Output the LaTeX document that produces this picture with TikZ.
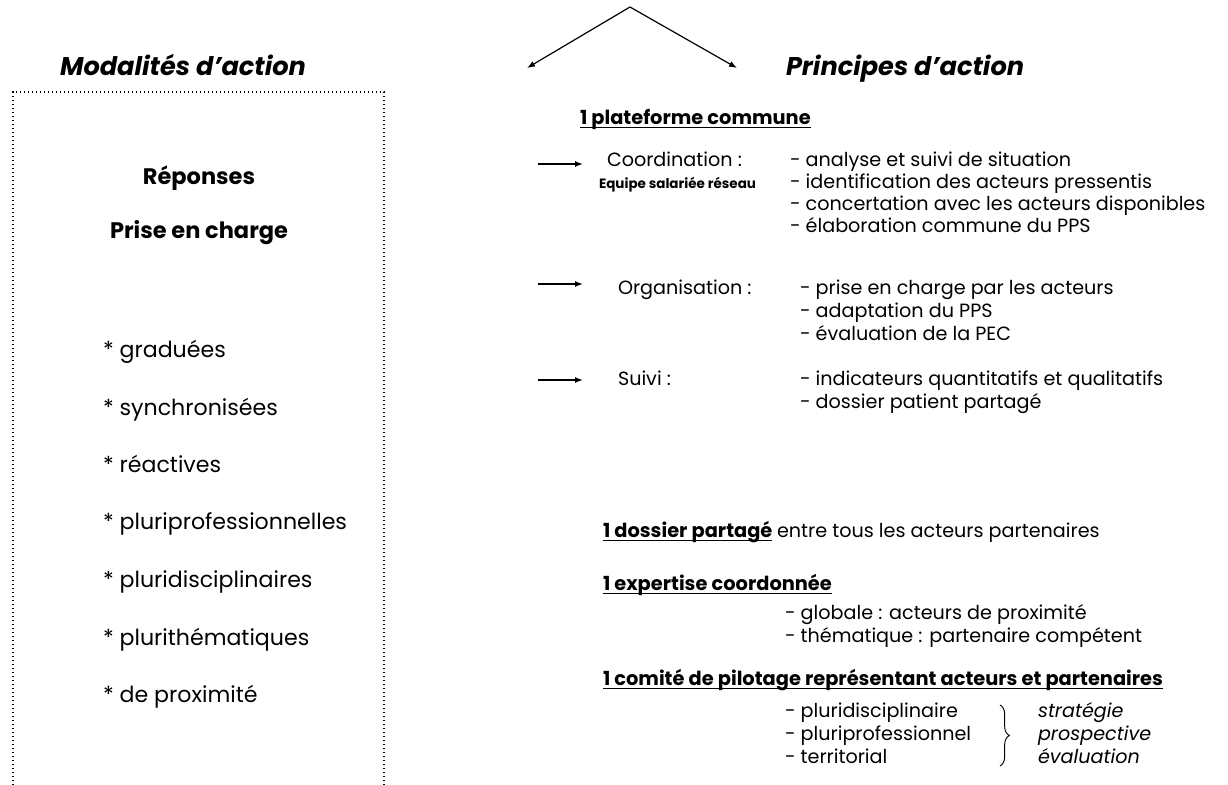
\documentclass[tikz,border=0pt]{standalone}
\usepackage{fontspec}
\setmainfont{Poppins}
\usetikzlibrary{arrows.meta,decorations.pathreplacing}
\newlength\calw
\newcommand\calfont[4]{\settowidth\calw{#2\fontsize{10pt}{12pt}\selectfont #3}\pgfmathsetmacro#1{7.5*#4/\calw}}
\newcommand\fhead{\bfseries\itshape\fontsize{\szHead pt}{\szHead pt}\selectfont}
\newcommand\fboxb{\bfseries\fontsize{\szBoxB pt}{\szBoxB pt}\selectfont}
\newcommand\fboxi{\fontsize{\szBox pt}{\szBox pt}\selectfont}
\newcommand\fr{\fontsize{\szR pt}{\szR pt}\selectfont}
\newcommand\frb{\bfseries\fontsize{\szRB pt}{\szRB pt}\selectfont}
\newcommand\fri{\itshape\fontsize{\szR pt}{\szR pt}\selectfont}
\newcommand\feq{\bfseries\fontsize{\szEq pt}{\szEq pt}\selectfont}
\begin{document}
\calfont{\szHead}{\bfseries\itshape}{Modalités d’action}{246}%
\calfont{\szBoxB}{\bfseries}{Prise en charge}{178}%
\calfont{\szBox}{}{* pluriprofessionnelles}{244}%
\calfont{\szR}{}{- thématique : partenaire compétent}{357}%
\calfont{\szRB}{\bfseries}{1 comité de pilotage représentant acteurs et partenaires}{560}%
\calfont{\szEq}{\bfseries}{Equipe salariée réseau}{157}%
\begin{tikzpicture}[x=0.75pt,y=-0.75pt,
  txt/.style={inner sep=0pt, outer sep=0pt, anchor=base west},
  headtxt/.style={txt, font=\fhead},
  boxbold/.style={txt, anchor=base, font=\fboxb},
  boxitem/.style={txt, font=\fboxi},
  rtxt/.style={txt, font=\fr},
  rbold/.style={txt, font=\frb},
  rital/.style={txt, font=\fri},
  eqtxt/.style={txt, anchor=base east, font=\feq},
  uline/.style={line width=1.1pt},
  dotbox/.style={line width=1.1pt, dash pattern=on 1.1pt off 1.9pt},
  vline/.style={line width=0.9pt, -{Latex[length=6pt,width=4.5pt]}},
  harrow/.style={line width=1.1pt, -{Latex[length=6pt,width=4.5pt]}},
  bracedec/.style={line width=0.7pt, decorate, decoration={brace, amplitude=7pt}}
]
\useasboundingbox (0,0) rectangle (1228,785);

% top split arrows
\coordinate (apex) at (630,7);
\coordinate (tipl) at (527,68);
\coordinate (tipr) at (737,68);
\draw[vline] (apex) -- (tipl);
\draw[vline] (apex) -- (tipr);

% headers
\node[headtxt] (hmod) at (60,75) {Modalités d’action};
\node[headtxt] (hpri) at (786,75) {Principes d’action};

% left dotted box
\draw[dotbox] (13,785) -- (13,92) -- (384,92) -- (384,785);
\node[boxbold] (rep) at (199,184) {Réponses};
\node[boxbold] (pec) at (199,238) {Prise en charge};
\node[boxitem] (i1) at (103,357) {* graduées};
\node[boxitem] (i2) at (103,415) {* synchronisées};
\node[boxitem] (i3) at (103,472) {* réactives};
\node[boxitem] (i4) at (103,529) {* pluriprofessionnelles};
\node[boxitem] (i5) at (103,587) {* pluridisciplinaires};
\node[boxitem] (i6) at (103,645) {* plurithématiques};
\node[boxitem] (i7) at (103,702) {* de proximité};

% right column
\node[rbold] (plat) at (580,124) {1 plateforme commune};
\draw[uline] ([yshift=-2.6pt]plat.base west) -- ([yshift=-2.6pt]plat.base east);

\coordinate (a1s) at (538,164);
\coordinate (a1e) at (583,164);
\draw[harrow] (a1s) -- (a1e);
\node[rtxt] (coord) at (607,166) {Coordination :};
\node[eqtxt] (equipe) at (756,188) {Equipe salariée réseau};
\node[rtxt] (c1) at (790,166) {- analyse et suivi de situation};
\node[rtxt] (c2) at (790,188) {- identification des acteurs pressentis};
\node[rtxt] (c3) at (790,210) {- concertation avec les acteurs disponibles};
\node[rtxt] (c4) at (790,232) {- élaboration commune du PPS};

\coordinate (a2s) at (538,284);
\coordinate (a2e) at (583,284);
\draw[harrow] (a2s) -- (a2e);
\node[rtxt] (orga) at (618,294) {Organisation :};
\node[rtxt] (o1) at (800,294) {- prise en charge par les acteurs};
\node[rtxt] (o2) at (800,317) {- adaptation du PPS};
\node[rtxt] (o3) at (800,340) {- évaluation de la PEC};

\coordinate (a3s) at (538,380);
\coordinate (a3e) at (583,380);
\draw[harrow] (a3s) -- (a3e);
\node[rtxt] (suivi) at (618,385) {Suivi :};
\node[rtxt] (s1) at (800,385) {- indicateurs quantitatifs et qualitatifs};
\node[rtxt] (s2) at (800,408) {- dossier patient partagé};

\node[rbold] (doss) at (603,537) {1 dossier partagé};
\draw[uline] ([yshift=-2.6pt]doss.base west) -- ([yshift=-2.6pt]doss.base east);
\node[rtxt] (dossr) at ([xshift=3.5pt]doss.base east) {entre tous les acteurs partenaires};

\node[rbold] (expe) at (603,590) {1 expertise coordonnée};
\draw[uline] ([yshift=-2.6pt]expe.base west) -- ([yshift=-2.6pt]expe.base east);
\node[rtxt] (e1) at (785,619) {- globale : acteurs de proximité};
\node[rtxt] (e2) at (785,642) {- thématique : partenaire compétent};

\node[rbold] (comi) at (603,685) {1 comité de pilotage représentant acteurs et partenaires};
\draw[uline] ([yshift=-2.6pt]comi.base west) -- ([yshift=-2.6pt]comi.base east);
\node[rtxt] (p1) at (785,717) {- pluridisciplinaire};
\node[rtxt] (p2) at (785,740) {- pluriprofessionnel};
\node[rtxt] (p3) at (785,763) {- territorial};
\coordinate (bt) at (1000,705);
\coordinate (bb) at (1000,766);
\draw[bracedec] (bt) -- (bb);
\node[rital] (g1) at (1038,717) {stratégie};
\node[rital] (g2) at (1038,740) {prospective};
\node[rital] (g3) at (1038,763) {évaluation};
\end{tikzpicture}
\end{document}
